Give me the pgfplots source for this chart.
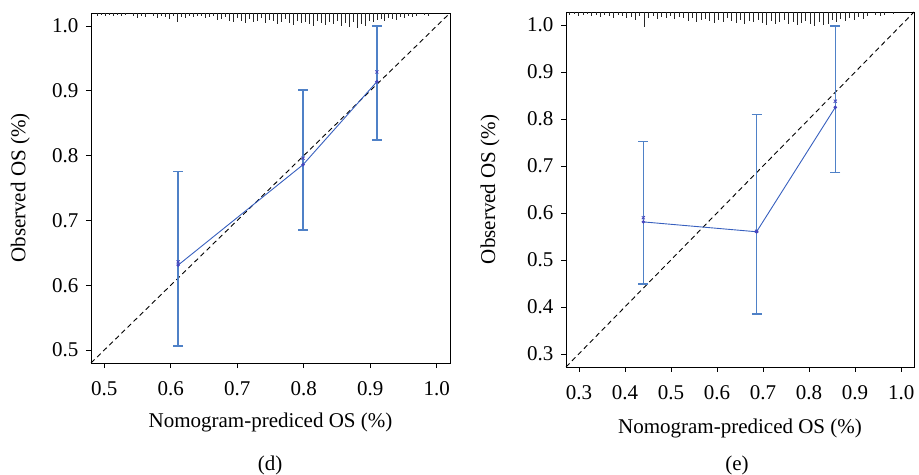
\documentclass[border=0pt]{standalone}
\usepackage{fontspec}
\setmainfont{Liberation Serif}
\usepackage{pgfplots}
\usepackage{pgfplotstable}
\pgfplotsset{compat=1.18}
\definecolor{ebar}{RGB}{79,129,199}
\definecolor{cline}{RGB}{55,95,190}
\definecolor{cmark}{RGB}{70,70,190}
\pgfplotsset{calib/.style={
  scale only axis, anchor=south west,
  axis line style={black, line width=0.8pt},
  tick align=outside, xtick pos=left, ytick pos=left,
  major tick length=5bp,
  every tick/.style={black, line width=0.6pt},
  tick label style={font=\fontsize{21bp}{24bp}\selectfont},
  xticklabel style={yshift=-10bp},
  yticklabel style={xshift=-4bp},
  label style={font=\fontsize{21bp}{24bp}\selectfont},
  /pgf/number format/assume math mode=true,
  /pgf/number format/.cd, fixed, fixed zerofill, precision=1, /pgfplots/.cd,
  xlabel={Nomogram-prediced OS (\%)},
  ylabel={Observed OS (\%)},
  clip=false,
}}
\pgfplotstableread{
x h
0.490 3
0.496 2
0.502 3
0.508 2
0.514 3
0.520 2
0.526 3
0.532 2
0.544 3
0.550 5
0.556 3
0.562 4
0.574 3
0.580 5
0.586 3
0.592 4
0.598 6
0.604 3
0.610 9
0.616 4
0.622 5
0.628 3
0.634 4
0.640 3
0.646 3
0.652 5
0.658 4
0.664 3
0.670 7
0.676 6
0.682 4
0.688 8
0.694 9
0.700 5
0.706 8
0.712 10
0.718 6
0.724 9
0.730 8
0.736 5
0.742 10
0.748 7
0.754 8
0.760 11
0.766 9
0.772 6
0.778 10
0.784 12
0.790 8
0.796 10
0.802 9
0.808 11
0.814 13
0.820 8
0.826 10
0.832 12
0.838 9
0.844 11
0.850 8
0.856 13
0.862 10
0.868 14
0.874 9
0.880 15
0.886 11
0.892 13
0.898 8
0.904 9
0.910 7
0.916 6
0.922 8
0.928 5
0.934 6
0.940 7
0.946 4
0.952 5
0.958 3
0.964 4
0.970 3
0.982 2
0.988 3
}\rugd
\pgfplotstableread{
x h
0.280 3
0.290 2
0.299 4
0.309 3
0.318 2
0.328 4
0.337 3
0.347 5
0.356 3
0.366 4
0.375 6
0.385 3
0.394 4
0.404 6
0.413 5
0.423 8
0.432 4
0.442 15
0.451 6
0.461 4
0.470 7
0.480 5
0.489 6
0.499 4
0.508 7
0.518 5
0.527 6
0.537 9
0.546 6
0.556 10
0.565 8
0.575 7
0.584 9
0.594 11
0.603 8
0.613 10
0.622 6
0.632 9
0.641 11
0.651 8
0.660 12
0.670 9
0.679 10
0.689 8
0.698 11
0.708 13
0.717 9
0.727 12
0.736 10
0.746 8
0.755 12
0.765 10
0.774 13
0.784 11
0.793 9
0.803 12
0.812 14
0.822 10
0.831 13
0.841 12
0.850 8
0.860 10
0.869 7
0.879 9
0.888 6
0.898 8
0.907 5
0.917 7
0.926 4
0.945 3
0.955 4
0.964 3
0.983 2
}\ruge
\begin{document}
\begin{tikzpicture}
\path[use as bounding box] (0,0) rectangle (919bp,475bp);
% ---------- (d)
\begin{axis}[calib, at={(91bp,112bp)}, width=359bp, height=350bp,
  xmin=0.48, xmax=1.02, ymin=0.48, ymax=1.02,
  xlabel style={at={(axis description cs:0.5,-0.171)}, anchor=center},
  ylabel style={at={(axis description cs:-0.197,0.5)}, anchor=center},
  xtick={0.5,0.6,0.7,0.8,0.9,1.0}, ytick={0.5,0.6,0.7,0.8,0.9,1.0}]
\addplot[black, dash pattern=on 5bp off 3.5bp, line width=0.9pt] coordinates {(0.48,0.48) (1.02,1.02)};
\addplot[black!85, line width=0.7pt, no markers, quiver={u=0, v=-\thisrow{h}, scale arrows=0.00155}] table[x=x, y expr=1.02] {\rugd};
\addplot[ebar, line width=1.3pt, draw=none, mark=none,
  error bars/.cd, y dir=both, y explicit, error bar style={ebar, line width=1.3pt},
  error mark options={ebar, rotate=90, mark size=5bp, line width=1.3pt}]
  coordinates {(0.611,0.631) -= (0,0.125) += (0,0.144)
               (0.799,0.786) -= (0,0.101) += (0,0.115)
               (0.910,0.914) -= (0,0.090) += (0,0.086)};
\addplot[cline, line width=0.9pt, mark=*, mark size=1.3bp, mark options={cmark}]
  coordinates {(0.611,0.631) (0.799,0.786) (0.910,0.914)};
\addplot[cmark, only marks, mark=x, mark size=2.2bp, line width=0.8pt]
  coordinates {(0.611,0.636) (0.799,0.796) (0.910,0.929)};
\end{axis}
% ---------- (e)
\begin{axis}[calib, at={(566bp,108bp)}, width=348bp, height=355bp,
  xmin=0.272, xmax=1.028, ymin=0.272, ymax=1.028,
  xlabel style={at={(axis description cs:0.5,-0.172)}, anchor=center},
  ylabel style={at={(axis description cs:-0.218,0.5)}, anchor=center},
  xtick={0.3,0.4,0.5,0.6,0.7,0.8,0.9,1.0}, ytick={0.3,0.4,0.5,0.6,0.7,0.8,0.9,1.0}]
\addplot[black, dash pattern=on 5bp off 3.5bp, line width=0.9pt] coordinates {(0.272,0.272) (1.028,1.028)};
\addplot[black!85, line width=0.7pt, no markers, quiver={u=0, v=-\thisrow{h}, scale arrows=0.00213}] table[x=x, y expr=1.028] {\ruge};
\addplot[ebar, line width=1.3pt, draw=none, mark=none,
  error bars/.cd, y dir=both, y explicit, error bar style={ebar, line width=1.3pt},
  error mark options={ebar, rotate=90, mark size=5bp, line width=1.3pt}]
  coordinates {(0.440,0.581) -= (0,0.132) += (0,0.171)
               (0.686,0.560) -= (0,0.175) += (0,0.250)
               (0.857,0.825) -= (0,0.139) += (0,0.173)};
\addplot[cline, line width=0.9pt, mark=*, mark size=1.3bp, mark options={cmark}]
  coordinates {(0.440,0.581) (0.686,0.560) (0.857,0.825)};
\addplot[cmark, only marks, mark=x, mark size=2.2bp, line width=0.8pt]
  coordinates {(0.440,0.590) (0.686,0.561) (0.857,0.838)};
\end{axis}
\node[font=\fontsize{21bp}{24bp}\selectfont] at (270bp,10bp) {(d)};
\node[font=\fontsize{21bp}{24bp}\selectfont] at (737bp,10bp) {(e)};
\end{tikzpicture}
\end{document}
